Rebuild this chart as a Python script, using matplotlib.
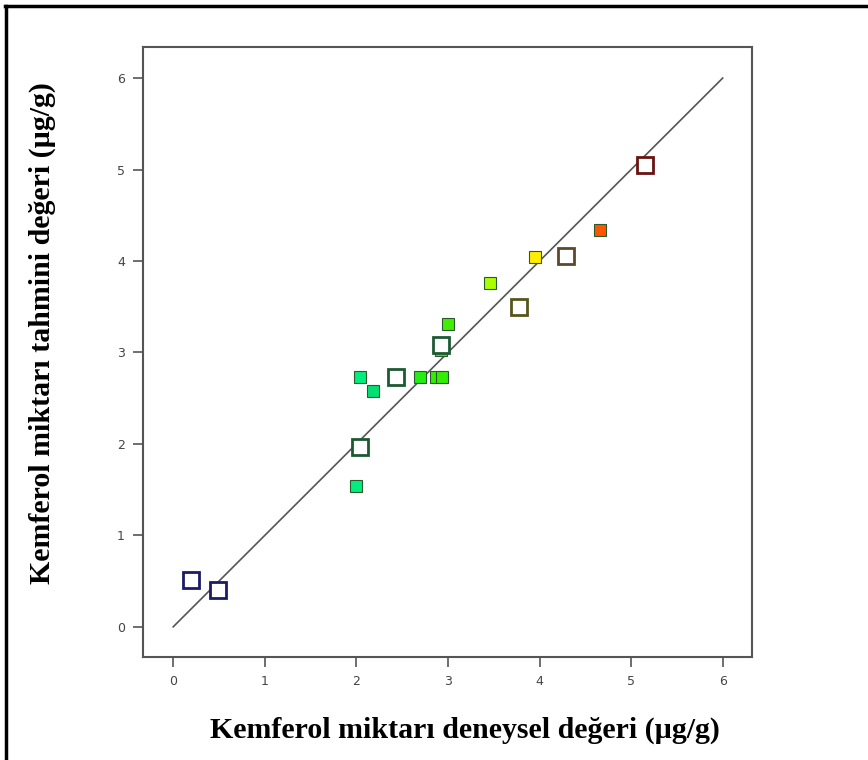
import matplotlib
matplotlib.use('Agg')
import matplotlib.pyplot as plt
from matplotlib.lines import Line2D

# Deneysel / tahmini kemferol değerleri (µg/g)
open_x = [0.19, 0.49, 2.04, 2.43, 2.92, 3.78, 4.29, 5.15]
open_y = [0.51, 0.40, 1.97, 2.73, 3.08, 3.50, 4.05, 5.05]
open_colors = ['#1c1c64', '#1c1c64', '#1d5a32', '#1d5a32', '#1d5a32',
               '#55561c', '#5a4a2a', '#6a1212']

filled_x = [2.00, 2.04, 2.18, 2.69, 2.87, 2.94, 2.92, 3.00, 3.46, 3.95, 4.66]
filled_y = [1.54, 2.73, 2.58, 2.73, 2.73, 2.73, 3.03, 3.31, 3.76, 4.04, 4.34]
filled_colors = ['#00ee80', '#00ee80', '#00e072', '#22ee11', '#33ee00',
                 '#33ee00', '#44ee00', '#44ee00', '#aaff00', '#ffee00',
                 '#ff5500']

ticks = [0, 1, 2, 3, 4, 5, 6]

fig = plt.figure(figsize=(8.68, 7.6), dpi=100)
ax = fig.add_axes([143 / 868, 1 - 657 / 760, 609 / 868, 610 / 760])

# y = x referans doğrusu
ax.plot([0, 6], [0, 6], color='#555555', linewidth=1.2, zorder=1)

for x, y, c in zip(filled_x, filled_y, filled_colors):
    ax.plot(x, y, marker='s', markersize=9, markerfacecolor=c,
            markeredgecolor='#2a5a2a', markeredgewidth=0.8,
            linestyle='none', zorder=3)

for x, y, c in zip(open_x, open_y, open_colors):
    ax.plot(x, y, marker='s', markersize=11.5, markerfacecolor='white',
            markeredgecolor=c, markeredgewidth=2.0,
            linestyle='none', zorder=4)

ax.set_xlim(-0.33, 6.32)
ax.set_ylim(-0.33, 6.34)
ax.set_xticks(ticks)
ax.set_yticks(ticks)
ax.tick_params(axis='both', direction='out', length=7, width=1.2,
               color='#555555', labelsize=9, labelcolor='#444444', pad=6)
for spine in ax.spines.values():
    spine.set_color('#555555')
    spine.set_linewidth(1.5)

fig.text(0.536, 1 - 730 / 760, 'Kemferol miktarı deneysel değeri (µg/g)',
         ha='center', va='center', fontsize=21.5, fontweight='bold',
         family='Liberation Serif')
fig.text(42 / 868, 1 - 333 / 760, 'Kemferol miktarı tahmini değeri (µg/g)',
         ha='center', va='center', rotation=90, fontsize=21.5,
         fontweight='bold', family='Liberation Serif')

# çerçeve: üst ve sol kenar
fig.add_artist(Line2D([5 / 868, 1], [1 - 6 / 760, 1 - 6 / 760],
                      transform=fig.transFigure, color='black', linewidth=2.5))
fig.add_artist(Line2D([6 / 868, 6 / 868], [0, 1 - 6 / 760],
                      transform=fig.transFigure, color='black', linewidth=2.5))

fig.savefig('out.png', dpi=100)
